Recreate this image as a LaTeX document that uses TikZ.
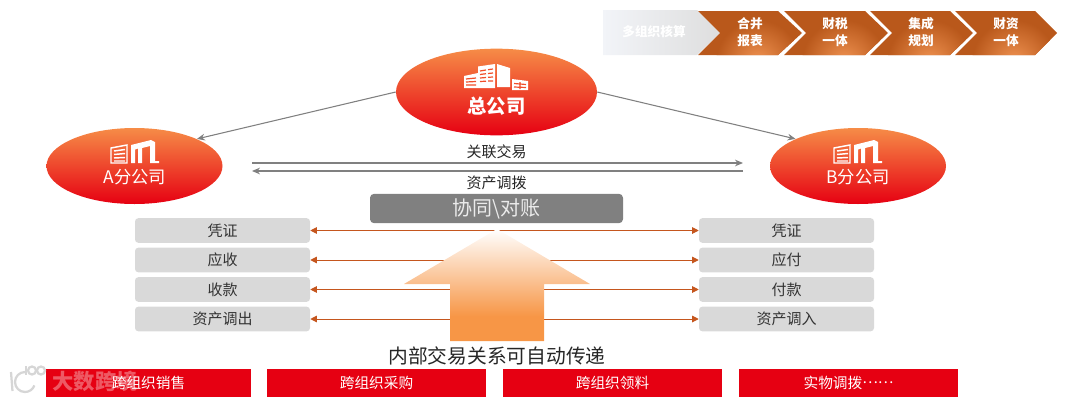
\documentclass[tikz,border=0pt]{standalone}
\usepackage{fontspec}
\setmainfont{Noto Sans CJK SC}
\usetikzlibrary{shapes.geometric,arrows.meta}
\definecolor{ArrowOrange}{HTML}{C5561E}
\definecolor{BoxGray}{HTML}{D9D9D9}
\definecolor{LinkGray}{HTML}{808080}
\definecolor{BarRed}{HTML}{E60012}
\definecolor{EllTop}{HTML}{F68C47}
\definecolor{EllMid}{HTML}{F14E2B}
\definecolor{ChevDark}{HTML}{B9581B}
\definecolor{ChevLight}{HTML}{F09352}
\definecolor{BigOrange}{HTML}{F79646}
\pgfdeclareverticalshading{bigarrowshade}{100bp}{
  color(0bp)=(BigOrange);
  color(36bp)=(BigOrange);
  color(75bp)=(white);
  color(100bp)=(white)}
\tikzset{
  ell/.style={ellipse,inner sep=0pt,top color=EllTop,middle color=EllMid,bottom color=BarRed},
  graybox/.style={draw=none,fill=BoxGray,rounded corners=2.5pt,minimum width=131.25pt,minimum height=18.5pt,inner sep=0pt,font=\fontsize{11.25pt}{13pt}\selectfont,text=black!80},
  redbar/.style={fill=BarRed,minimum height=21pt,inner sep=0pt,text=white,font=\fontsize{11pt}{13pt}\selectfont},
  link/.style={draw=LinkGray,line width=0.8pt,-{Stealth[length=6pt,width=5pt]}},
  syncarrow/.style={draw=ArrowOrange,line width=0.75pt,{Triangle[length=5pt,width=5pt]}-{Triangle[length=5pt,width=5pt]}},
  chevtext/.style={align=center,text=white,font=\fontsize{9.5pt}{12.5pt}\selectfont\bfseries},
  lbl/.style={inner sep=0pt,text=black!85,font=\fontsize{11.25pt}{13pt}\selectfont},
  bigarrow/.style={shading=bigarrowshade,draw=none}
}
\newcommand{\chevron}[3]{% left x, right shoulder, tip
  \begin{scope}
    \clip (#1,11) -- (#2,11) -- (#3,33) -- (#2,55) -- (#1,55) -- (#1+22,33) -- cycle;
    \fill[ChevDark] (#1-2,9) rectangle (#3+2,57);
    \shade[inner color=ChevLight,outer color=ChevDark] ({(#1+#3)/2+8},62) circle [radius=42];
  \end{scope}
}
\newcommand{\coicon}[1]{%
\begin{scope}[shift={(#1,0)}]
  \draw[white,line width=1.1pt,fill=none] (1,163) -- (1,148) -- (17,145) -- (17,163) -- cycle;
  \draw[white,line width=1.1pt]
    (4,151) -- (15,149.5) (4,154.5) -- (15,153.5) (4,158) -- (15,157.5) (4,161) -- (15,161);
  \fill[white] (21,145) -- (41,140) -- (45,142) -- (45,161) -- (49,161) -- (49,163) -- (40,163) -- (40,146) -- (32,148) -- (32,163) -- (28,163) -- (28,148.5) -- (25,149.5) -- (25,163) -- (21,163) -- cycle;
\end{scope}}
\begin{document}
\begin{tikzpicture}[x=0.75pt,y=-0.75pt]
\useasboundingbox (0,0) rectangle (1068,400);
% process chevrons
\definecolor{FirstL}{HTML}{F2F4F8}
\definecolor{FirstR}{HTML}{DEDEDE}
\shade[left color=FirstL,right color=FirstR,draw=none]
  (603,10) -- (697,10) -- (720,33) -- (697,55) -- (603,55) -- cycle;
\chevron{698}{778}{802}
\chevron{784}{865}{888}
\chevron{870}{950}{973}
\chevron{955}{1035}{1057}
\node[chevtext] (c0) at (654,32) {多组织核算};
\node[chevtext] (c1) at (750,32) {合并\\报表};
\node[chevtext] (c2) at (835,32) {财税\\一体};
\node[chevtext] (c3) at (921,32) {集成\\规划};
\node[chevtext] (c4) at (1006,32) {财资\\一体};
% ellipses
\node[ell,minimum width=150.75pt,minimum height=65pt] (hq) at (496.5,92) {};
\node[ell,minimum width=132pt,minimum height=57pt] (aco) at (134.5,166) {};
\node[ell,minimum width=132pt,minimum height=57pt] (bco) at (858,166) {};
% connectors
\draw[link] (hq.west) -- (aco.north east);
\draw[link] (hq.east) -- (bco.north west);
\coordinate (rl) at (252,163); \coordinate (rr) at (743,163);
\coordinate (sl) at (252,171); \coordinate (sr) at (743,171);
\draw[link] (rl) -- (rr);
\draw[link] (sr) -- (sl);
\node[lbl] (rel) at (496.5,151.5) {关联交易};
\node[lbl] (ast) at (496.5,183) {资产调拨};
% headquarters icon
\begin{scope}
  \fill[white] (464,76) -- (478,73) -- (478,66.5) -- (495,64) -- (495,88) -- (464,88) -- cycle;
  \fill[white] (497,64) -- (510,68) -- (510,87) -- (497,87) -- cycle;
  \fill[white] (512,79) -- (528,81) -- (528,90) -- (512,90) -- cycle;
  \draw[EllMid,line width=0.9pt]
    (466,79) -- (476,78) (466,82) -- (476,81.5) (466,85) -- (476,85)
    (480,71) -- (486,70) (488,69.7) -- (493,69)
    (480,74.5) -- (486,73.7) (488,73.5) -- (493,73)
    (480,78) -- (486,77.5) (488,77.3) -- (493,77)
    (480,81.5) -- (486,81.2) (488,81) -- (493,81)
    (514,83.5) -- (526,84.5) (514,87) -- (526,87.5)
    (520,82) -- (520,89);
\end{scope}
% branch icons
\coicon{110}
\coicon{833}
% ellipse texts
\node[inner sep=0pt,text=white,font=\fontsize{14.5pt}{16pt}\selectfont\bfseries] (hqt) at (496.5,106) {总公司};
\node[inner sep=0pt,text=white,font=\fontsize{13pt}{15pt}\selectfont] (at) at (135,177) {A分公司};
\node[inner sep=0pt,text=white,font=\fontsize{13pt}{15pt}\selectfont] (bt) at (858,177) {B分公司};
% reconciliation box
\node[fill=black!50,rounded corners=3pt,minimum width=189.75pt,minimum height=22pt,inner sep=0pt,text=white!92!black,font=\fontsize{15pt}{17pt}\selectfont] (sync) at (496.5,208.5) {协同\textbackslash 对账};
% document boxes
\node[graybox] (l1) at (222.5,230.5) {凭证};
\node[graybox] (l2) at (222.5,260) {应收};
\node[graybox] (l3) at (222.5,289.5) {收款};
\node[graybox] (l4) at (222.5,319) {资产调出};
\node[graybox] (r1) at (786.5,230.5) {凭证};
\node[graybox] (r2) at (786.5,260) {应付};
\node[graybox] (r3) at (786.5,289.5) {付款};
\node[graybox] (r4) at (786.5,319) {资产调入};
\foreach \i in {1,2,3,4} \draw[syncarrow] (l\i.east) -- (r\i.west);
% big upward arrow
\path[bigarrow] (497,229) -- (590,284) -- (544,284) -- (544,341) -- (450,341) -- (450,284) -- (404,284) -- cycle;
\node[inner sep=0pt,text=black!85,font=\fontsize{14.8pt}{17pt}\selectfont] (auto) at (497,356) {内部交易关系可自动传递};
% red bars
\node[redbar,minimum width=153.75pt] (b1) at (148.5,383) {跨组织销售};
\node[redbar,minimum width=164.25pt] (b2) at (376.5,383) {跨组织采购};
\node[redbar,minimum width=164.25pt] (b3) at (612.5,383) {跨组织领料};
\node[redbar,minimum width=164.25pt] (b4) at (848.5,383) {实物调拨\raisebox{0.35em}{……}};
% watermark
\node[inner sep=0pt,text=white,opacity=0.35,font=\fontsize{16pt}{18pt}\selectfont\bfseries] (wm) at (95,381) {大数跨境};
\begin{scope}[draw=black!16,line width=1.7pt,fill=none]
  \draw (11,372) -- (12.5,391);
  \draw (25,372) arc[start angle=270,end angle=20,radius=10];
  \draw (26,366) -- (26,375);
  \draw (32,370.5) circle[radius=4];
  \draw (41,370.5) circle[radius=4];
\end{scope}
\end{tikzpicture}
\end{document}
